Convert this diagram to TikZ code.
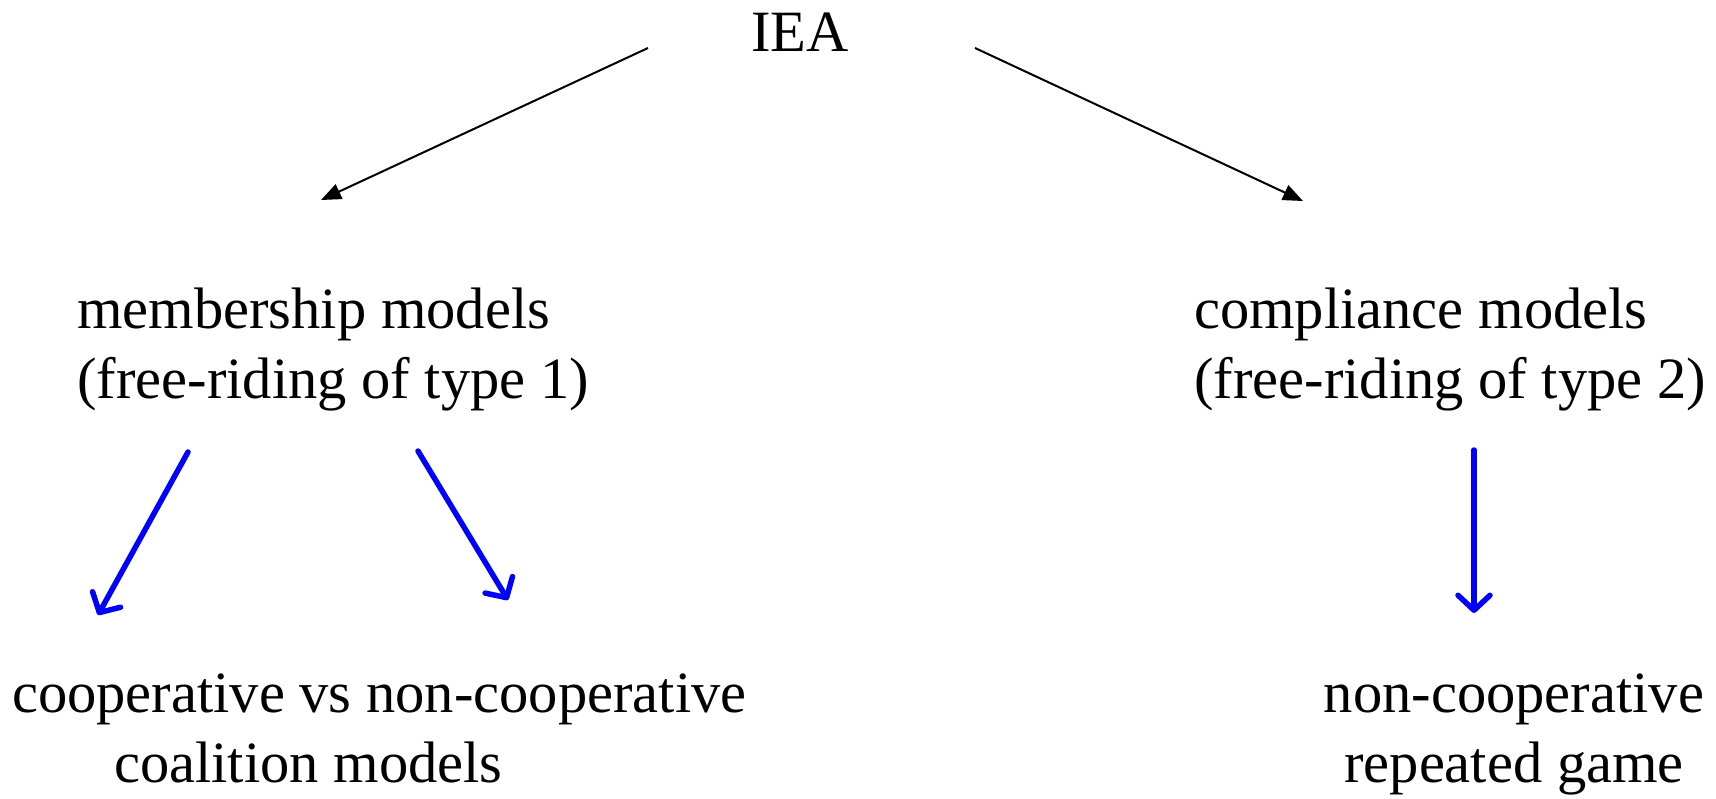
\documentclass[tikz,border=0pt]{standalone}
\usepackage{fontspec}
\setmainfont{Liberation Serif}
\usetikzlibrary{arrows.meta}
\tikzset{
  lbl/.style={inner sep=0pt, font=\fontsize{58.5}{70}\selectfont},
  blackarrow/.style={line width=2pt, -{Triangle[length=20pt,width=16pt]}},
  bluearrow/.style={line width=5.5pt, draw=blue, line cap=round, -{Straight Barb[length=15pt,width=32pt,round]}},
}
\begin{document}
\begin{tikzpicture}[x=1pt,y=-1pt]
\useasboundingbox (0,0) rectangle (1716,798);
\node[lbl, anchor=base] (iea) at (800,51) {IEA};
\node[lbl, anchor=base west, align=left] (mem) at (77,398) {membership models\\(free-riding of type 1)};
\node[lbl, anchor=base west, align=left] (comp) at (1194,398) {compliance models\\(free-riding of type 2)};
\node[lbl, anchor=base west, align=left] (coop) at (12,782) {cooperative vs non-cooperative\\\hspace*{102pt}coalition models};
\node[lbl, anchor=base, align=center] (rep) at (1514,782) {non-cooperative\\repeated game};
\coordinate (a1s) at (648,48);
\coordinate (a1e) at (321,200);
\coordinate (a2s) at (975,48);
\coordinate (a2e) at (1303,201);
\coordinate (b1s) at (188,452);
\coordinate (b1e) at (98,615);
\coordinate (b2s) at (418,451);
\coordinate (b2e) at (508,600);
\coordinate (b3s) at (1474,450);
\coordinate (b3e) at (1474,613);
\draw[blackarrow] (a1s) -- (a1e);
\draw[blackarrow] (a2s) -- (a2e);
\draw[bluearrow] (b1s) -- (b1e);
\draw[bluearrow] (b2s) -- (b2e);
\draw[bluearrow] (b3s) -- (b3e);
\end{tikzpicture}
\end{document}
